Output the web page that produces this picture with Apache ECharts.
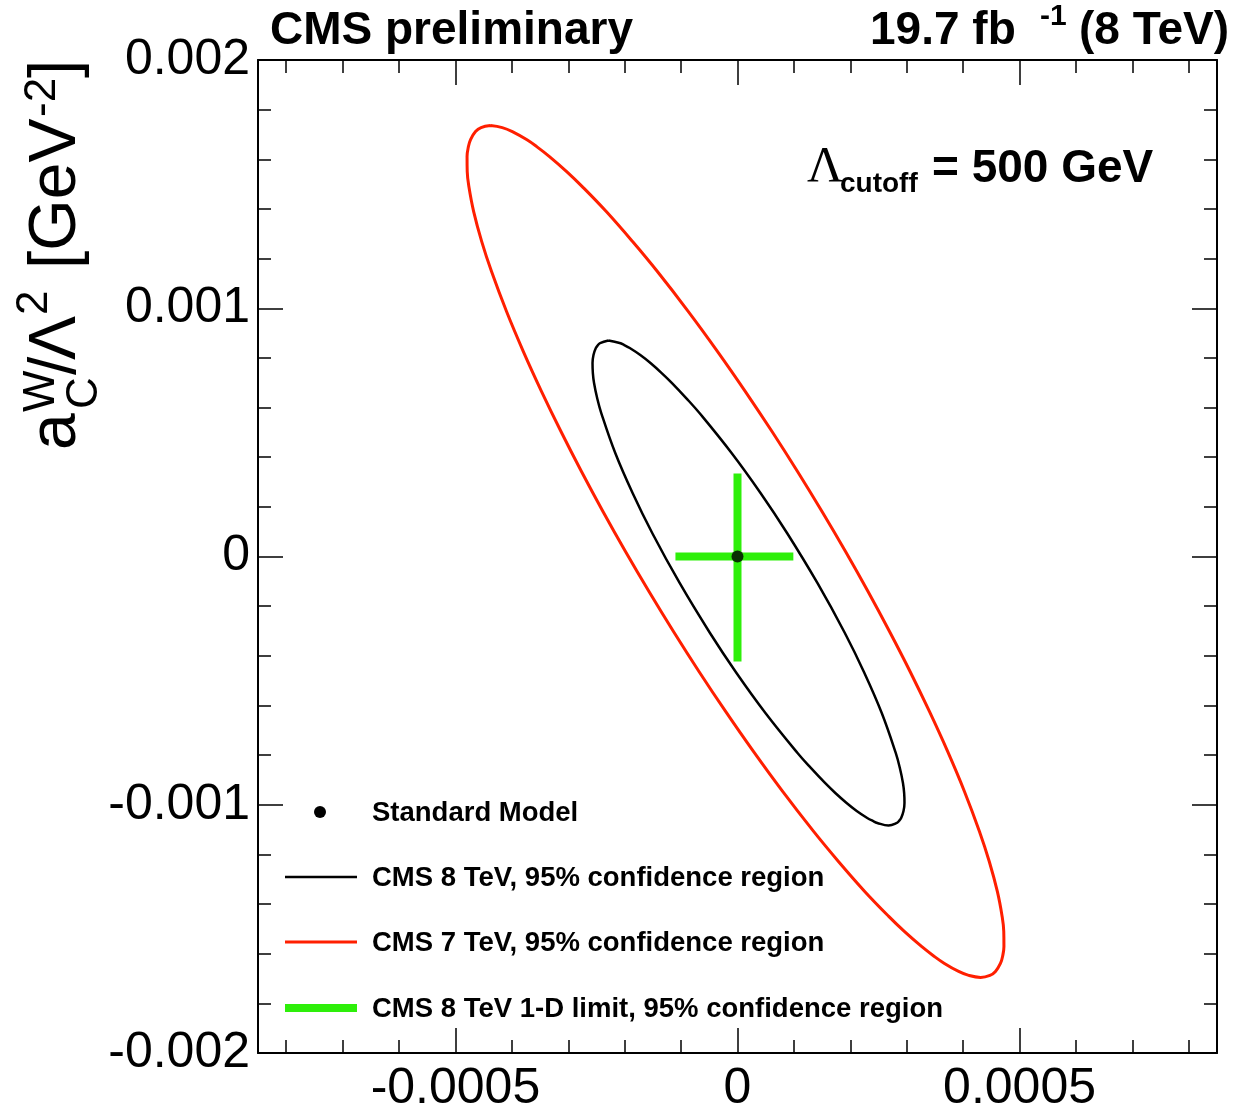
<!DOCTYPE html>
<html>
<head>
<meta charset="utf-8">
<script src="https://cdn.jsdelivr.net/npm/echarts@6/dist/echarts.min.js"></script>
<style>
  html, body { margin: 0; padding: 0; background: #fff; }
  #main { width: 1247px; height: 1112px; }
</style>
</head>
<body>
<div id="main"></div>
<script>
// axis ranges and ticks
var xMin = -0.00085, xMax = 0.00085;
var yMin = -0.002, yMax = 0.002;
var xMajorTicks = [-0.0005, 0, 0.0005];
var xMinorTicks = [-0.0008, -0.0007, -0.0006, -0.0004, -0.0003, -0.0002, -0.0001,
                   0.0001, 0.0002, 0.0003, 0.0004, 0.0006, 0.0007, 0.0008];
var yMajorTicks = [-0.002, -0.001, 0, 0.001, 0.002];
var yMinorTicks = [-0.0018, -0.0016, -0.0014, -0.0012, -0.0008, -0.0006, -0.0004, -0.0002,
                   0.0002, 0.0004, 0.0006, 0.0008, 0.0012, 0.0014, 0.0016, 0.0018];

// Standard Model point
var smPoint = [[0, 0]];

// CMS 8 TeV 95% contour (x, y)
var contour8TeV = [
  [-2.287e-4, 8.699e-4], [-2.089e-4, 8.598e-4], [-2.009e-4, 8.518e-4], [-1.910e-4, 8.397e-4],
  [-1.723e-4, 8.115e-4], [-1.543e-4, 7.793e-4], [-1.344e-4, 7.390e-4], [-1.161e-4, 6.988e-4],
  [-0.910e-4, 6.383e-4], [-0.674e-4, 5.779e-4], [-0.105e-4, 4.168e-4], [0.408e-4, 2.557e-4],
  [0.878e-4, 0.946e-4], [1.416e-4, -1.067e-4], [1.903e-4, -3.081e-4], [2.250e-4, -4.692e-4],
  [2.557e-4, -6.303e-4], [2.805e-4, -7.914e-4], [2.878e-4, -8.518e-4], [2.933e-4, -9.122e-4],
  [2.954e-4, -9.525e-4], [2.960e-4, -9.928e-4], [2.943e-4, -10.250e-4], [2.901e-4, -10.532e-4],
  [2.863e-4, -10.652e-4], [2.826e-4, -10.733e-4], [2.677e-4, -10.834e-4],
  [2.479e-4, -10.733e-4], [2.399e-4, -10.652e-4], [2.300e-4, -10.532e-4], [2.113e-4, -10.250e-4],
  [1.934e-4, -9.928e-4], [1.734e-4, -9.525e-4], [1.551e-4, -9.122e-4], [1.300e-4, -8.518e-4],
  [1.064e-4, -7.914e-4], [0.495e-4, -6.303e-4], [-0.018e-4, -4.692e-4], [-0.488e-4, -3.081e-4],
  [-1.026e-4, -1.067e-4], [-1.512e-4, 0.946e-4], [-1.860e-4, 2.557e-4], [-2.167e-4, 4.168e-4],
  [-2.415e-4, 5.779e-4], [-2.488e-4, 6.383e-4], [-2.543e-4, 6.988e-4], [-2.564e-4, 7.390e-4],
  [-2.570e-4, 7.793e-4], [-2.553e-4, 8.115e-4], [-2.511e-4, 8.397e-4], [-2.473e-4, 8.518e-4],
  [-2.436e-4, 8.598e-4], [-2.287e-4, 8.699e-4]
];

// CMS 7 TeV 95% contour
var contour7TeV = [
  [-4.379e-4, 17.358e-4], [-4.170e-4, 17.277e-4], [-3.991e-4, 17.116e-4], [-3.739e-4, 16.794e-4],
  [-3.560e-4, 16.512e-4], [-3.333e-4, 16.110e-4], [-3.028e-4, 15.505e-4], [-2.752e-4, 14.901e-4],
  [-2.326e-4, 13.894e-4], [-1.860e-4, 12.686e-4], [-1.420e-4, 11.478e-4], [-0.871e-4, 9.867e-4],
  [-0.353e-4, 8.256e-4], [0.140e-4, 6.645e-4], [0.612e-4, 5.034e-4], [1.064e-4, 3.423e-4],
  [1.498e-4, 1.812e-4], [1.915e-4, 0.201e-4], [2.314e-4, -1.410e-4], [2.695e-4, -3.021e-4],
  [3.059e-4, -4.631e-4], [3.402e-4, -6.242e-4], [3.725e-4, -7.853e-4], [4.023e-4, -9.464e-4],
  [4.289e-4, -11.075e-4], [4.463e-4, -12.284e-4], [4.606e-4, -13.492e-4], [4.691e-4, -14.498e-4],
  [4.720e-4, -15.103e-4], [4.723e-4, -15.707e-4], [4.699e-4, -16.110e-4], [4.661e-4, -16.391e-4],
  [4.573e-4, -16.714e-4], [4.475e-4, -16.875e-4], [4.309e-4, -16.955e-4],
  [4.099e-4, -16.875e-4], [3.920e-4, -16.714e-4], [3.668e-4, -16.391e-4], [3.489e-4, -16.110e-4],
  [3.262e-4, -15.707e-4], [2.957e-4, -15.103e-4], [2.681e-4, -14.498e-4], [2.255e-4, -13.492e-4],
  [1.789e-4, -12.284e-4], [1.349e-4, -11.075e-4], [0.800e-4, -9.464e-4], [0.282e-4, -7.853e-4],
  [-0.211e-4, -6.242e-4], [-0.683e-4, -4.631e-4], [-1.135e-4, -3.021e-4], [-1.569e-4, -1.410e-4],
  [-1.986e-4, 0.201e-4], [-2.385e-4, 1.812e-4], [-2.766e-4, 3.423e-4], [-3.129e-4, 5.034e-4],
  [-3.473e-4, 6.645e-4], [-3.796e-4, 8.256e-4], [-4.094e-4, 9.867e-4], [-4.360e-4, 11.478e-4],
  [-4.534e-4, 12.686e-4], [-4.677e-4, 13.894e-4], [-4.762e-4, 14.901e-4], [-4.791e-4, 15.505e-4],
  [-4.794e-4, 16.110e-4], [-4.770e-4, 16.512e-4], [-4.732e-4, 16.794e-4], [-4.644e-4, 17.116e-4],
  [-4.546e-4, 17.277e-4], [-4.379e-4, 17.358e-4]
];

// 1-D limits at 95% CL
var limitX = [[-1.10e-4, 0], [0.99e-4, 0]];
var limitY = [[0, 3.34e-4], [0, -4.23e-4]];

var legendNames = [
  'Standard Model',
  'CMS 8 TeV, 95% confidence region',
  'CMS 7 TeV, 95% confidence region',
  'CMS 8 TeV 1-D limit, 95% confidence region'
];

var RED = '#ff1f00', GREEN = '#2eef0a', BLACK = '#000000';
var SANS = '"Liberation Sans", Arial, Helvetica, sans-serif';

function fmt(v) {
  return String(parseFloat(Number(v).toFixed(5)));
}

function xAxisDef(pos, ticks, len, showLine, showLabel) {
  return {
    type: 'value', position: pos, min: xMin, max: xMax,
    axisLine: { show: showLine, onZero: false, lineStyle: { color: BLACK, width: 2 } },
    axisTick: { show: true, inside: true, length: len, customValues: ticks,
                lineStyle: { color: BLACK, width: 1.5 } },
    axisLabel: { show: showLabel, customValues: ticks, margin: 11, formatter: fmt,
                 fontSize: 50, fontFamily: SANS, color: BLACK },
    splitLine: { show: false }, minorTick: { show: false }
  };
}
function yAxisDef(pos, ticks, len, showLine, showLabel) {
  return {
    type: 'value', position: pos, min: yMin, max: yMax,
    axisLine: { show: showLine, onZero: false, lineStyle: { color: BLACK, width: 2 } },
    axisTick: { show: true, inside: true, length: len, customValues: ticks,
                lineStyle: { color: BLACK, width: 1.5 } },
    axisLabel: { show: showLabel, customValues: ticks, margin: 8, formatter: fmt,
                 fontSize: 50, fontFamily: SANS, color: BLACK },
    splitLine: { show: false }, minorTick: { show: false }
  };
}

function txt(x, y, text, font, align, extra) {
  var st = { x: x, y: y, text: text, font: font, fill: BLACK,
             align: align || 'left', verticalAlign: 'middle',
             textAlign: align || 'left', textVerticalAlign: 'middle' };
  return Object.assign({ type: 'text', style: st }, extra || {});
}

var myChart = echarts.init(document.getElementById('main'), null, { renderer: 'canvas' });

var option = {
  animation: false,
  backgroundColor: '#ffffff',
  grid: { left: 258, right: 30, top: 60, bottom: 59, containLabel: false, outerBoundsMode: 'none' },
  xAxis: [
    xAxisDef('bottom', xMajorTicks, 25, true, true),
    xAxisDef('bottom', xMinorTicks, 13, false, false),
    xAxisDef('top', xMajorTicks, 25, true, false),
    xAxisDef('top', xMinorTicks, 13, false, false)
  ],
  yAxis: [
    yAxisDef('left', yMajorTicks, 25, true, true),
    yAxisDef('left', yMinorTicks, 13, false, false),
    yAxisDef('right', yMajorTicks, 25, true, false),
    yAxisDef('right', yMinorTicks, 13, false, false)
  ],
  series: [
    {
      name: legendNames[2], type: 'line', data: contour7TeV, smooth: 0.4,
      symbol: 'none', lineStyle: { color: RED, width: 3 }, z: 2
    },
    {
      name: legendNames[1], type: 'line', data: contour8TeV, smooth: 0.4,
      symbol: 'none', lineStyle: { color: BLACK, width: 2.5 }, z: 3
    },
    {
      name: legendNames[3], type: 'line', data: limitX,
      symbol: 'none', lineStyle: { color: GREEN, width: 8, cap: 'butt' }, z: 4
    },
    {
      name: legendNames[3], type: 'line', data: limitY,
      symbol: 'none', lineStyle: { color: GREEN, width: 8, cap: 'butt' }, z: 4
    },
    {
      name: legendNames[0], type: 'scatter', data: smPoint,
      symbol: 'circle', symbolSize: 12, itemStyle: { color: BLACK }, z: 5
    }
  ],
  graphic: [
    // header
    txt(270, 31, 'CMS preliminary', 'bold 46px ' + SANS),
    txt(870, 31, '19.7 fb', 'bold 46px ' + SANS),
    txt(1040, 17, '-1', 'bold 30px ' + SANS),
    txt(1229, 31, '(8 TeV)', 'bold 46px ' + SANS, 'right'),
    // cutoff label
    txt(807, 168, '\u039b', '50px "Liberation Serif", "DejaVu Serif", serif'),
    txt(840, 184, 'cutoff', 'bold 28px ' + SANS),
    txt(932, 169, '= 500 GeV', 'bold 46px ' + SANS),
    // y axis title, rotated
    {
      type: 'group', x: 0, y: 455, rotation: Math.PI / 2,
      children: [
        txt(5, 57, 'a', '66px ' + SANS),
        txt(43, 42, 'W', '44px ' + SANS),
        txt(46, 85, 'C', '44px ' + SANS),
        txt(80, 57, '/', '66px ' + SANS),
        txt(95, 57, '\u039b', '66px ' + SANS),
        txt(140, 35, '2', '44px ' + SANS),
        txt(186, 57, '[GeV', '66px ' + SANS),
        txt(338, 43, '-2', '44px ' + SANS),
        txt(377, 57, ']', '66px ' + SANS)
      ]
    },
    // legend
    { type: 'circle', shape: { cx: 320, cy: 812, r: 6 }, style: { fill: BLACK } },
    { type: 'line', shape: { x1: 285, y1: 877, x2: 357, y2: 877 }, style: { stroke: BLACK, lineWidth: 2.5 } },
    { type: 'line', shape: { x1: 285, y1: 942, x2: 357, y2: 942 }, style: { stroke: RED, lineWidth: 3 } },
    { type: 'line', shape: { x1: 285, y1: 1008, x2: 357, y2: 1008 }, style: { stroke: GREEN, lineWidth: 8 } },
    txt(372, 813, legendNames[0], 'bold 27.5px ' + SANS),
    txt(372, 878, legendNames[1], 'bold 27.5px ' + SANS),
    txt(372, 943, legendNames[2], 'bold 27.5px ' + SANS),
    txt(372, 1009, legendNames[3], 'bold 27.5px ' + SANS)
  ]
};

myChart.setOption(option);
</script>
</body>
</html>
